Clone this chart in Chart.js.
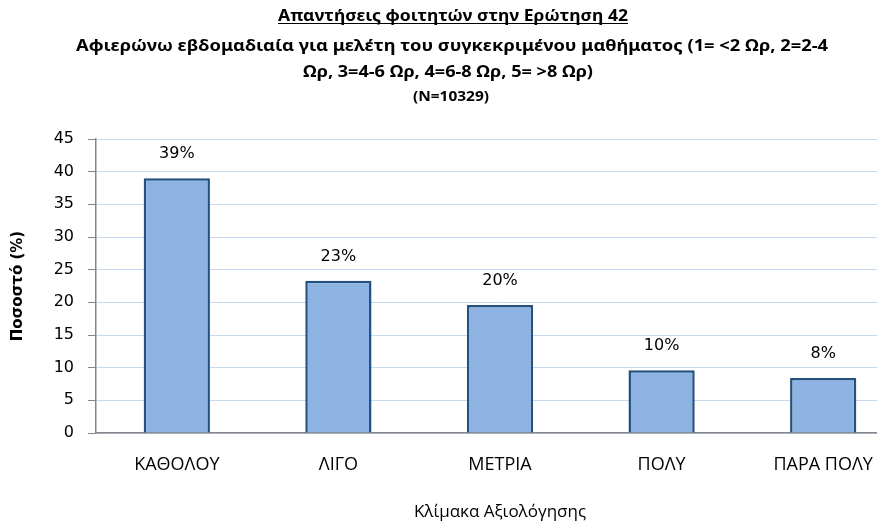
<!DOCTYPE html>
<html>
<head>
<meta charset="utf-8">
<script src="https://cdn.jsdelivr.net/npm/chart.js@4/dist/chart.umd.min.js"></script>
<style>
  html, body { margin: 0; padding: 0; background: #ffffff; overflow: hidden; }
  #wrap { width: 905px; height: 527px; }
  canvas { display: block; }
</style>
</head>
<body>
<div id="wrap"><canvas id="c" width="905" height="527"></canvas></div>
<script>
// ---- data ----
const categories = ["ΚΑΘΟΛΟΥ", "ΛΙΓΟ", "ΜΕΤΡΙΑ", "ΠΟΛΥ", "ΠΑΡΑ ΠΟΛΥ"];
const percentValues = [39.0, 23.3, 19.6, 9.6, 8.4];
const valueLabels = ["39%", "23%", "20%", "10%", "8%"];
const titleLines = [
  "Απαντήσεις φοιτητών στην Ερώτηση 42",
  "Αφιερώνω εβδομαδιαία για μελέτη του συγκεκριμένου μαθήματος (1= <2 Ωρ, 2=2-4",
  "Ωρ, 3=4-6 Ωρ, 4=6-8 Ωρ, 5= >8 Ωρ)",
  "(N=10329)"
];
const yAxisTitle = "Ποσοστό (%)";
const xAxisTitle = "Κλίμακα Αξιολόγησης";

// ---- title drawing (fitted widths) ----
const titleSpecs = [
  { font: "bold 16px 'Noto Sans', 'DejaVu Sans', sans-serif", cx: 453, base: 21, w: 350, underline: true },
  { font: "bold 16px 'Noto Sans', 'DejaVu Sans', sans-serif", cx: 452, base: 51, w: 752 },
  { font: "bold 16px 'Noto Sans', 'DejaVu Sans', sans-serif", cx: 448, base: 77, w: 290 },
  { font: "bold 14px 'Noto Sans', 'DejaVu Sans', sans-serif", cx: 451, base: 101, w: 76 }
];

const titlePlugin = {
  id: 'fittedTitle',
  afterDraw(chart) {
    const ctx = chart.ctx;
    ctx.save();
    ctx.fillStyle = '#000000';
    ctx.strokeStyle = '#000000';
    ctx.textBaseline = 'alphabetic';
    ctx.textAlign = 'left';
    titleLines.forEach((txt, i) => {
      const s = titleSpecs[i];
      ctx.font = s.font;
      const natural = ctx.measureText(txt).width;
      const k = s.w / natural;
      ctx.save();
      ctx.translate(s.cx - s.w / 2, s.base);
      ctx.scale(k, 1);
      ctx.fillText(txt, 0, 0);
      ctx.restore();
      if (s.underline) {
        ctx.lineWidth = 1;
        ctx.beginPath();
        ctx.moveTo(s.cx - s.w / 2, s.base + 2.5);
        ctx.lineTo(s.cx + s.w / 2, s.base + 2.5);
        ctx.stroke();
      }
    });
    ctx.restore();
  }
};

const valueLabelPlugin = {
  id: 'valueLabels',
  afterDatasetsDraw(chart) {
    const ctx = chart.ctx;
    const meta = chart.getDatasetMeta(0);
    ctx.save();
    ctx.font = "16px 'DejaVu Sans', sans-serif";
    ctx.fillStyle = '#000000';
    ctx.textAlign = 'center';
    ctx.textBaseline = 'middle';
    meta.data.forEach((bar, i) => {
      ctx.fillText(valueLabels[i], bar.x, bar.y - 24);
    });
    ctx.restore();
  }
};

new Chart(document.getElementById('c'), {
  type: 'bar',
  data: {
    labels: categories,
    datasets: [{
      data: percentValues,
      backgroundColor: '#8DB3E2',
      borderColor: '#24507F',
      borderWidth: 2.5,
      borderSkipped: 'bottom',
      barPercentage: 0.41,
      categoryPercentage: 1.0
    }]
  },
  options: {
    responsive: false,
    animation: false,
    devicePixelRatio: 1,
    layout: { padding: { top: 139, right: 1, left: 0, bottom: 0 } },
    plugins: {
      legend: { display: false },
      title: { display: false },
      tooltip: { enabled: false }
    },
    scales: {
      x: {
        offset: true,
        grid: { display: true, drawOnChartArea: false, drawTicks: false },
        border: { display: true, color: '#868686', width: 1.5 },
        ticks: {
          color: '#000000',
          padding: 21,
          maxRotation: 0,
          font: { family: "'Open Sans', 'DejaVu Sans', sans-serif", size: 18 }
        },
        title: {
          display: true,
          text: xAxisTitle,
          color: '#000000',
          padding: { top: 0, bottom: 5 },
          font: { family: "'Open Sans', 'DejaVu Sans', sans-serif", size: 17 }
        },
        afterFit(scale) { scale.height = 94; }
      },
      y: {
        min: 0,
        max: 45,
        grid: { color: '#C6D9F1', lineWidth: 1, tickLength: 8, tickColor: '#868686', drawTicks: true },
        border: { display: true, color: '#868686', width: 1.5 },
        ticks: {
          stepSize: 5,
          color: '#000000',
          padding: 14,
          font: { family: "'DejaVu Sans', sans-serif", size: 16 }
        },
        title: {
          display: true,
          text: yAxisTitle,
          color: '#000000',
          padding: { top: 9, bottom: 0 },
          font: { family: "'DejaVu Sans', sans-serif", size: 15, weight: 'bold' }
        },
        afterFit(scale) { scale.width = 96; }
      }
    }
  },
  plugins: [titlePlugin, valueLabelPlugin]
});
</script>
</body>
</html>
